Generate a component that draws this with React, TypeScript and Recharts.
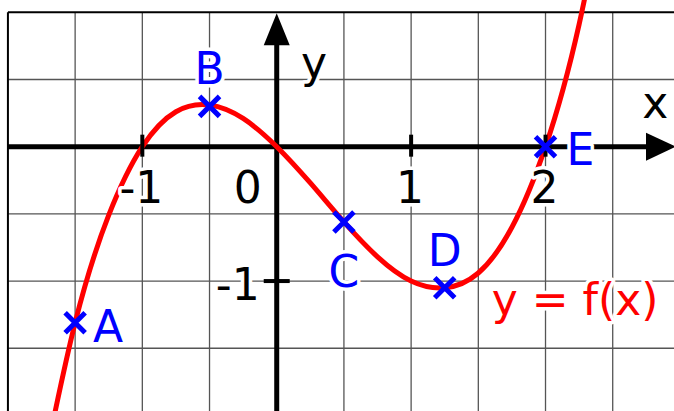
import {
  ComposedChart,
  XAxis,
  YAxis,
  Line,
  Scatter,
  ReferenceLine,
  ReferenceDot,
} from 'recharts';

// curve y = f(x)
const curveX = [-1.75, -1.5, -1.25, -1, -0.75, -0.5, -0.25, 0, 0.25, 0.5, 0.75, 1, 1.25, 1.5, 1.75, 2, 2.25, 2.5];
const curveY = [-2.46, -1.31, -0.51, 0, 0.26, 0.31, 0.21, 0, -0.27, -0.56, -0.82, -1.0, -1.05, -0.94, -0.6, 0, 0.91, 2.19];

// marked points
const pointNames = ['A', 'B', 'C', 'D', 'E'];
const pointX = [-1.5, -0.5, 0.5, 1.25, 2];
const pointY = [-1.31, 0.3, -0.56, -1.05, 0];

// axes
const xTicks = [-1, 1, 2];
const yTicks = [-1];
const gridX = [-1.5, -1, -0.5, 0.5, 1, 1.5, 2, 2.5];
const gridY = [0.5, -0.5, -1, -1.5];

const X_MIN = -2.059;
const X_MAX = 2.956;
const Y_MIN = -1.967;
const Y_MAX = 1.0915;

const curve = curveX.map((x, i) => ({ x, y: curveY[i] }));
const points = pointNames.map((name, i) => ({ name, x: pointX[i], y: pointY[i] }));

const FONT = '"DejaVu Sans", Verdana, sans-serif';
const FS = 44;
const BLUE = '#0000ff';
const RED = '#ff0000';

// label offsets from each marker (px)
const labelOffset: Record<string, [number, number]> = {
  A: [33, 19],
  B: [0, -22],
  C: [0, 65],
  D: [0, -22],
  E: [35, 18],
};

const txt = (x: number, y: number, s: string, fill = '#000', anchor: any = 'middle') => (
  <text
    x={x}
    y={y}
    textAnchor={anchor}
    fontFamily={FONT}
    fontSize={FS}
    fill={fill}
    stroke="#fff"
    strokeWidth={7}
    paintOrder="stroke"
    strokeLinejoin="round"
  >
    {s}
  </text>
);

const Cross = (props: any) => {
  const { cx, cy, payload } = props;
  const s = 10;
  const [dx, dy] = labelOffset[payload.name];
  return (
    <g>
      <path
        d={`M${cx - s},${cy - s}L${cx + s},${cy + s}M${cx - s},${cy + s}L${cx + s},${cy - s}`}
        stroke={BLUE}
        strokeWidth={5}
        fill="none"
      />
      {txt(cx + dx, cy + dy, payload.name, BLUE)}
    </g>
  );
};

export default function App() {
  return (
    <div style={{ position: 'absolute', left: 0, top: 0, background: '#fff' }}>
      <ComposedChart width={674} height={411} margin={{ top: 0, right: 0, bottom: 0, left: 0 }}>
        <XAxis type="number" dataKey="x" domain={[X_MIN, X_MAX]} allowDataOverflow hide />
        <YAxis type="number" dataKey="y" domain={[Y_MIN, Y_MAX]} allowDataOverflow hide />

        {/* grid */}
        {gridX.map((v) => (
          <ReferenceLine
            key={`gx${v}`}
            segment={[{ x: v, y: 1 }, { x: v, y: Y_MIN }]}
            stroke="#555"
            strokeWidth={1.3}
          />
        ))}
        {gridY.map((v) => (
          <ReferenceLine
            key={`gy${v}`}
            segment={[{ x: -2, y: v }, { x: X_MAX, y: v }]}
            stroke="#555"
            strokeWidth={1.3}
          />
        ))}
        <ReferenceLine segment={[{ x: -2, y: 1 }, { x: X_MAX, y: 1 }]} stroke="#000" strokeWidth={2} />
        <ReferenceLine segment={[{ x: -2, y: 1 }, { x: -2, y: Y_MIN }]} stroke="#000" strokeWidth={2} />

        {/* axes */}
        <ReferenceLine segment={[{ x: -2, y: 0 }, { x: 2.8, y: 0 }]} stroke="#000" strokeWidth={5} />
        <ReferenceLine segment={[{ x: 0, y: Y_MIN }, { x: 0, y: 0.85 }]} stroke="#000" strokeWidth={5} />
        <ReferenceDot
          x={X_MAX}
          y={0}
          r={0}
          shape={(p: any) => (
            <path d={`M${p.cx + 2},${p.cy}L${p.cx - 28},${p.cy - 14}L${p.cx - 28},${p.cy + 14}Z`} fill="#000" />
          )}
        />
        <ReferenceDot
          x={0}
          y={1}
          r={0}
          shape={(p: any) => (
            <path d={`M${p.cx},${p.cy + 1}L${p.cx - 13},${p.cy + 33}L${p.cx + 13},${p.cy + 33}Z`} fill="#000" />
          )}
        />

        {/* ticks */}
        {xTicks.map((v) => (
          <ReferenceDot
            key={`xt${v}`}
            x={v}
            y={0}
            r={0}
            shape={(p: any) => (
              <g>
                <line x1={p.cx} x2={p.cx} y1={p.cy - 12} y2={p.cy + 10} stroke="#000" strokeWidth={4} />
                {txt(p.cx - 1, p.cy + 56, String(v))}
              </g>
            )}
          />
        ))}
        <ReferenceDot x={0} y={0} r={0} shape={(p: any) => txt(p.cx - 29, p.cy + 56, '0')} />
        {yTicks.map((v) => (
          <ReferenceDot
            key={`yt${v}`}
            x={0}
            y={v}
            r={0}
            shape={(p: any) => (
              <g>
                <line x1={p.cx - 13} x2={p.cx + 13} y1={p.cy} y2={p.cy} stroke="#000" strokeWidth={4} />
                {txt(p.cx - 39, p.cy + 19, String(v))}
              </g>
            )}
          />
        ))}
        <ReferenceDot x={2.817} y={0.213} r={0} shape={(p: any) => txt(p.cx, p.cy, 'x')} />
        <ReferenceDot x={0.278} y={0.51} r={0} shape={(p: any) => txt(p.cx, p.cy, 'y')} />

        <Line
          data={curve}
          dataKey="y"
          type="natural"
          stroke={RED}
          strokeWidth={5}
          dot={false}
          isAnimationActive={false}
        />
        <Scatter data={points} dataKey="y" shape={Cross} isAnimationActive={false} />
        <ReferenceDot x={2.22} y={-1.25} r={0} shape={(p: any) => txt(p.cx, p.cy, 'y = f(x)', RED)} />
      </ComposedChart>
    </div>
  );
}
